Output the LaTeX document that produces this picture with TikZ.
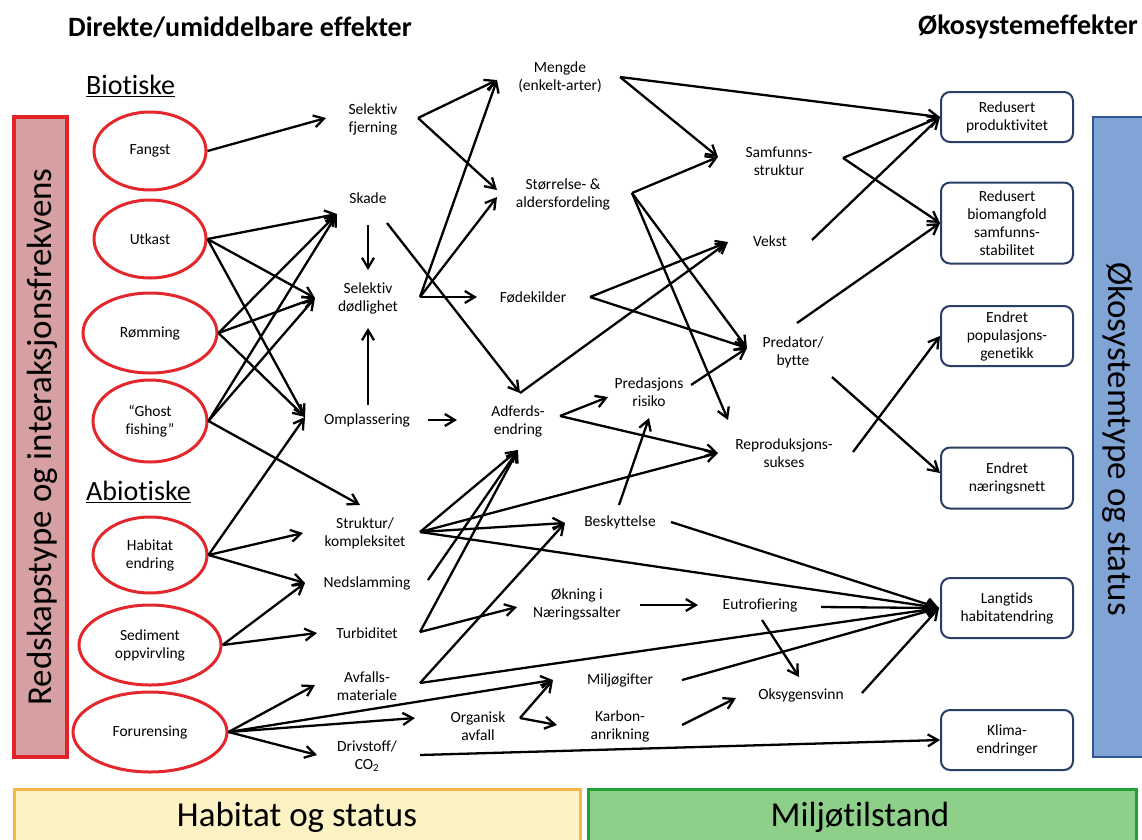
\documentclass[tikz,border=0pt]{standalone}
\usepackage{fontspec}
\setmainfont{Carlito}[Ligatures={NoCommon}]
\usetikzlibrary{shapes.geometric,arrows.meta}
\definecolor{ellred}{RGB}{226,40,45}
\definecolor{barpink}{RGB}{214,160,162}
\definecolor{barred}{RGB}{226,36,40}
\definecolor{barblue}{RGB}{128,164,214}
\definecolor{barblueb}{RGB}{46,84,150}
\definecolor{boxblue}{RGB}{40,62,100}
\definecolor{yfill}{RGB}{253,242,196}
\definecolor{ydraw}{RGB}{246,185,70}
\definecolor{gfill}{RGB}{142,207,138}
\definecolor{gdraw}{RGB}{34,160,58}
\newcommand\smtxt{\fontsize{15.5}{18}\selectfont}
\newcommand\bigtxt{\fontsize{35}{40}\selectfont}
\begin{document}
\begin{tikzpicture}[x=1pt,y=-1pt,
  ell/.style={ellipse,draw=ellred,line width=3pt,fill=white,inner sep=0pt,font=\smtxt,align=center},
  lbl/.style={align=center,font=\smtxt,inner sep=1pt},
  ebox/.style={draw=boxblue,line width=2pt,rounded corners=9pt,fill=white,minimum width=132pt,align=center,font=\smtxt,inner sep=2pt},
  arr/.style={-{Straight Barb[length=10pt,width=12pt]},line width=2.3pt},
  hdr/.style={font=\bfseries\fontsize{28}{32}\selectfont,inner sep=0pt},
  sub/.style={font=\fontsize{28}{32}\selectfont,inner sep=0pt},
]
\useasboundingbox (0,0) rectangle (1142,839);
\fill[white] (0,0) rectangle (1142,839);

% frames
\draw[draw=barred,fill=barpink,line width=3.5pt] (14,117) rectangle (67,757);
\node[rotate=90,font=\bigtxt] (lefttxt) at (42,437) {Redskapstype og interaksjonsfrekvens};
\draw[draw=barblueb,fill=barblue,line width=2.5pt] (1093,117) rectangle (1152,757);
\node[rotate=-90,font=\bigtxt] (righttxt) at (1118,439) {Økosystemtype og status};
\draw[draw=ydraw,fill=yfill,line width=3pt] (14,789) rectangle (580,848);
\node[font=\bigtxt,anchor=base] (hs) at (297,826) {Habitat og status};
\draw[draw=gdraw,fill=gfill,line width=3pt] (588,789) rectangle (1136,848);
\node[font=\bigtxt,anchor=base] (mt) at (860,826) {Miljøtilstand};

% headers
\node[hdr,anchor=west] (h1) at (68,27) {Direkte/umiddelbare effekter};
\node[hdr,anchor=west] (h2) at (918,27) {Økosystemeffekter};
\node[sub,anchor=west] (bio) at (86,86) {\underline{Biotiske}};
\node[sub,anchor=west] (abio) at (86,492) {\underline{Abiotiske}};

% ellipses
\node[ell,minimum width=112pt,minimum height=78pt] (fangst) at (150,151) {Fangst};
\node[ell,minimum width=112pt,minimum height=78pt] (utkast) at (150,239) {Utkast};
\node[ell,minimum width=134pt,minimum height=80pt] (romming) at (150,333) {Rømming};
\node[ell,minimum width=114pt,minimum height=82pt] (ghost) at (150,421) {“Ghost\\fishing”};
\node[ell,minimum width=114pt,minimum height=76pt] (habitat) at (150,555) {Habitat\\endring};
\node[ell,minimum width=142pt,minimum height=80pt] (sediment) at (150,645) {Sediment\\oppvirvling};
\node[ell,minimum width=154pt,minimum height=80pt] (foru) at (150,732) {Forurensing};

% column 1
\node[lbl] (fj) at (373,119) {Selektiv\\fjerning};
\node[lbl] (skade) at (368,198) {Skade};
\node[lbl] (dod) at (368,298) {Selektiv\\dødlighet};
\node[lbl] (omp) at (367,420) {Omplassering};
\node[lbl] (struk) at (365,533) {Struktur/\\kompleksitet};
\node[lbl] (ned) at (367,583) {Nedslamming};
\node[lbl] (turb) at (367,633) {Turbiditet};
\node[lbl] (avf) at (367,686) {Avfalls-\\materiale};
\node[lbl] (driv) at (367,756) {Drivstoff/\\CO\textsubscript{2}};

% column 2
\node[lbl] (meng) at (560,77) {Mengde\\(enkelt-arter)};
\node[lbl] (stor) at (563,194) {Størrelse- \&\\aldersfordeling};
\node[lbl] (fode) at (533,297) {Fødekilder};
\node[lbl] (adf) at (518,421) {Adferds-\\endring};
\node[lbl] (pr) at (649,392) {Predasjons\\risiko};
\node[lbl] (besk) at (620,522) {Beskyttelse};
\node[lbl] (okn) at (577,604) {Økning i\\Næringssalter};
\node[lbl] (milj) at (620,680) {Miljøgifter};
\node[lbl] (org) at (478,726) {Organisk\\avfall};
\node[lbl] (karb) at (620,726) {Karbon-\\anrikning};

% column 3
\node[lbl] (samf) at (779,161) {Samfunns-\\struktur};
\node[lbl] (vekst) at (770,241) {Vekst};
\node[lbl] (pred) at (793,352) {Predator/\\bytte};
\node[lbl] (rep) at (784,453) {Reproduksjons-\\sukses};
\node[lbl] (eut) at (760,605) {Eutrofiering};
\node[lbl] (oks) at (801,695) {Oksygensvinn};

% boxes
\node[ebox,minimum height=50pt] (rp) at (1007,117) {Redusert\\produktivitet};
\node[ebox,minimum height=81pt] (rb) at (1007,223) {Redusert\\biomangfold\\samfunns-\\stabilitet};
\node[ebox,minimum height=60pt] (ep) at (1007,336) {Endret\\populasjons-\\genetikk};
\node[ebox,minimum height=61pt] (en) at (1007,478) {Endret\\næringsnett};
\node[ebox,minimum height=60pt] (lh) at (1007,608) {Langtids\\habitatendring};
\node[ebox,minimum height=60pt] (kl) at (1007,740) {Klima-\\endringer};

% ports
\coordinate (fjI) at (326,118);
\coordinate (skI) at (337,214);
\coordinate (dodI) at (315,298);
\coordinate (ompI) at (305,417);
\coordinate (strukT) at (360,505);
\coordinate (strukI) at (303,533);
\coordinate (nedI) at (305,583);
\coordinate (turbI) at (317,633);
\coordinate (avfI) at (315,685);
\coordinate (miljI) at (553,680);
\coordinate (orgI) at (415,718);
\coordinate (drivI) at (317,755);
\coordinate (skD) at (368,225);
\coordinate (dodT) at (368,270);
\coordinate (ompU) at (368,405);
\coordinate (dodB) at (368,328);
\coordinate (ompR) at (428,420);
\coordinate (adfL) at (457,420);
\coordinate (fjO) at (418,118);
\coordinate (dodO) at (420,297);
\coordinate (mengI) at (497,80);
\coordinate (storI) at (497,190);
\coordinate (storI2) at (497,197);
\coordinate (fodI) at (477,297);
\coordinate (skO) at (387,223);
\coordinate (adfT) at (520,393);
\coordinate (vekI) at (728,242);
\coordinate (fodO) at (590,297);
\coordinate (predI) at (747,348);
\coordinate (mengO) at (620,77);
\coordinate (samI) at (718,157);
\coordinate (storO) at (632,193);
\coordinate (repT) at (728,420);
\coordinate (samO) at (843,158);
\coordinate (vekO) at (812,240);
\coordinate (predO1) at (797,323);
\coordinate (predO2) at (832,377);
\coordinate (enI) at (940,473);
\coordinate (repO) at (853,452);
\coordinate (adfO) at (560,416);
\coordinate (prI) at (608,397);
\coordinate (repI) at (718,453);
\coordinate (prO) at (691,385);
\coordinate (beskU) at (619,505);
\coordinate (prB) at (649,418);
\coordinate (beskR) at (671,522);
\coordinate (strukO) at (420,532);
\coordinate (adfB) at (518,450);
\coordinate (beskI) at (565,523);
\coordinate (nedO) at (428,580);
\coordinate (turbO) at (420,632);
\coordinate (oknI) at (517,607);
\coordinate (avfO) at (420,683);
\coordinate (oknO) at (640,605);
\coordinate (eutI) at (698,605);
\coordinate (eutO) at (821,607);
\coordinate (eutD) at (762,620);
\coordinate (oksT) at (799,677);
\coordinate (oksL) at (736,698);
\coordinate (miljO) at (682,680);
\coordinate (orgO) at (520,718);
\coordinate (karbI) at (557,725);
\coordinate (karbO) at (682,725);
\coordinate (oksO) at (862,693);
\coordinate (drivO) at (420,755);
\coordinate (lhI) at (939,608);

% connectors: sources
\draw[arr] (fangst.east) -- (fjI);
\draw[arr] (utkast.east) -- (skI);
\draw[arr] (utkast.east) -- (dodI);
\draw[arr] (utkast.east) -- (ompI);
\draw[arr] (romming.east) -- (skI);
\draw[arr] (romming.east) -- (dodI);
\draw[arr] (romming.east) -- (ompI);
\draw[arr] (ghost.east) -- (skI);
\draw[arr] (ghost.east) -- (dodI);
\draw[arr] (ghost.east) -- (strukT);
\draw[arr] (habitat.east) -- (ompI);
\draw[arr] (habitat.east) -- (strukI);
\draw[arr] (habitat.east) -- (nedI);
\draw[arr] (sediment.east) -- (nedI);
\draw[arr] (sediment.east) -- (turbI);
\draw[arr] (foru.east) -- (avfI);
\draw[arr] (foru.east) -- (miljI);
\draw[arr] (foru.east) -- (orgI);
\draw[arr] (foru.east) -- (drivI);

% connectors: middle
\draw[arr] (skD) -- (dodT);
\draw[arr] (ompU) -- (dodB);
\draw[arr] (ompR) -- (adfL);
\draw[arr] (fjO) -- (mengI);
\draw[arr] (fjO) -- (storI);
\draw[arr] (dodO) -- (mengI);
\draw[arr] (dodO) -- (storI2);
\draw[arr] (dodO) -- (fodI);
\draw[arr] (skO) -- (adfT);
\draw[arr] (adfT) -- (vekI);
\draw[arr] (fodO) -- (vekI);
\draw[arr] (fodO) -- (predI);
\draw[arr] (mengO) -- (rp.west);
\draw[arr] (mengO) -- (samI);
\draw[arr] (storO) -- (samI);
\draw[arr] (storO) -- (predI);
\draw[arr] (storO) -- (repT);
\draw[arr] (samO) -- (rp.west);
\draw[arr] (samO) -- (rb.west);
\draw[arr] (vekO) -- (rp.west);
\draw[arr] (predO1) -- (rb.west);
\draw[arr] (predO2) -- (enI);
\draw[arr] (repO) -- (ep.west);
\draw[arr] (adfO) -- (prI);
\draw[arr] (adfO) -- (repI);
\draw[arr] (prO) -- (predI);
\draw[arr] (beskU) -- (prB);
\draw[arr] (beskR) -- (lhI);
\draw[arr] (strukO) -- (adfB);
\draw[arr] (strukO) -- (repI);
\draw[arr] (strukO) -- (beskI);
\draw[arr] (strukO) -- (lhI);
\draw[arr] (nedO) -- (adfB);
\draw[arr] (turbO) -- (adfB);
\draw[arr] (turbO) -- (oknI);
\draw[arr] (avfO) -- (beskI);
\draw[arr] (avfO) -- (lhI);
\draw[arr] (oknO) -- (eutI);
\draw[arr] (eutO) -- (lhI);
\draw[arr] (eutD) -- (oksT);
\draw[arr] (miljO) -- (lhI);
\draw[arr] (orgO) -- (miljI);
\draw[arr] (orgO) -- (karbI);
\draw[arr] (karbO) -- (oksL);
\draw[arr] (oksO) -- (lhI);
\draw[arr] (drivO) -- (kl.west);
\end{tikzpicture}
\end{document}
